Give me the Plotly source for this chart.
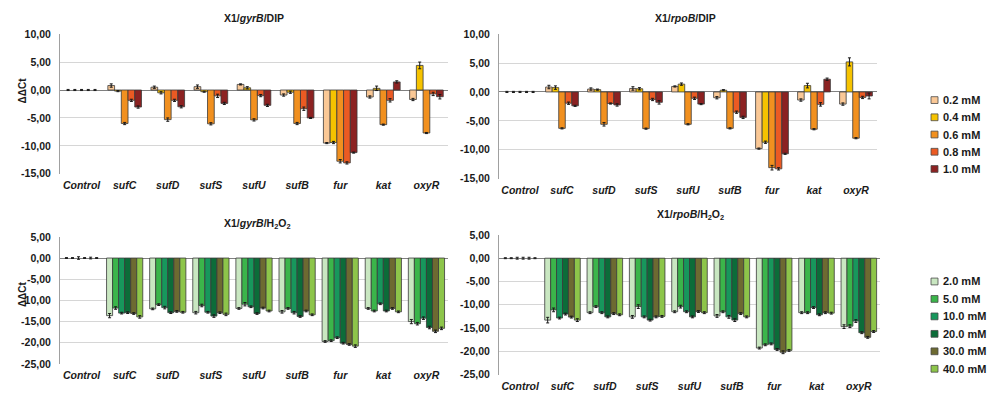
import plotly.graph_objects as go

# Genes on the category axis
genes = ["Control", "sufC", "sufD", "sufS", "sufU", "sufB", "fur", "kat", "oxyR"]

# Treatment doses (legend entries)
dip_doses = ["0.2 mM", "0.4 mM", "0.6 mM", "0.8 mM", "1.0 mM"]
h2o2_doses = ["2.0 mM", "5.0 mM", "10.0 mM", "20.0 mM", "30.0 mM", "40.0 mM"]

dip_colors = ["#FAC896", "#F6C300", "#F1901F", "#EB5A23", "#8C2222"]
h2o2_colors = ["#C9E7C1", "#3BB54A", "#17975C", "#0C6C39", "#6D6A31", "#8DC54A"]

# ΔΔCt values: one row per dose, one column per gene
gyrb_dip = [
    [0, 0.8, 0.5, 0.6, 1.0, -0.9, -9.5, -1.25, -1.7],
    [0, -0.2, -0.5, -0.3, 0.4, -0.4, -9.4, 0.3, 4.4],
    [0, -6.0, -5.3, -6.05, -5.35, -6.0, -12.75, -6.2, -7.7],
    [0, -1.85, -1.85, -1.05, -1.0, -3.35, -13.05, -1.85, -0.7],
    [0, -3.05, -3.0, -2.4, -2.75, -5.0, -11.2, 1.45, -1.2],
]
gyrb_dip_err = [
    [0.1, 0.3, 0.2, 0.3, 0.1, 0.2, 0.1, 0.2, 0.2],
    [0.1, 0.1, 0.2, 0.1, 0.2, 0.2, 0.2, 0.4, 0.6],
    [0.1, 0.2, 0.3, 0.2, 0.2, 0.2, 0.3, 0.1, 0.1],
    [0.1, 0.2, 0.2, 0.3, 0.2, 0.3, 0.2, 0.3, 0.3],
    [0.1, 0.2, 0.2, 0.2, 0.2, 0.1, 0.1, 0.2, 0.4],
]

rpob_dip = [
    [0, 0.85, 0.5, 0.6, 0.95, -1.0, -9.8, -1.4, -2.1],
    [0, 0.75, 0.4, 0.55, 1.35, 0.3, -8.7, 1.1, 5.2],
    [0, -6.3, -5.6, -6.35, -5.6, -6.3, -13.1, -6.45, -8.0],
    [0, -1.95, -2.0, -1.3, -1.1, -3.5, -13.3, -2.15, -0.95],
    [0, -2.4, -2.25, -1.8, -2.1, -4.4, -10.7, 2.2, -0.7],
]
rpob_dip_err = [
    [0.1, 0.3, 0.2, 0.3, 0.1, 0.2, 0.1, 0.2, 0.2],
    [0.1, 0.3, 0.1, 0.2, 0.2, 0.1, 0.2, 0.4, 0.7],
    [0.1, 0.1, 0.3, 0.1, 0.1, 0.1, 0.4, 0.1, 0.1],
    [0.1, 0.2, 0.1, 0.2, 0.2, 0.2, 0.2, 0.3, 0.2],
    [0.1, 0.1, 0.2, 0.3, 0.1, 0.2, 0.1, 0.2, 0.5],
]

gyrb_h2o2 = [
    [0, -13.6, -12.0, -12.9, -11.9, -12.7, -19.7, -11.9, -15.0],
    [0, -11.8, -11.0, -11.2, -10.9, -11.9, -19.5, -12.5, -15.5],
    [0, -13.0, -11.7, -12.8, -11.5, -12.9, -18.8, -10.8, -14.2],
    [0, -12.9, -12.9, -13.7, -13.1, -13.8, -20.1, -12.5, -16.4],
    [0, -13.1, -12.6, -12.9, -11.8, -12.5, -20.4, -11.9, -17.3],
    [0, -13.9, -12.8, -13.3, -12.5, -13.4, -20.8, -12.7, -16.6],
]
gyrb_h2o2_err = [
    [0.1, 0.5, 0.2, 0.3, 0.2, 0.3, 0.2, 0.2, 0.5],
    [0.1, 0.3, 0.2, 0.3, 0.4, 0.2, 0.2, 0.2, 0.3],
    [0.3, 0.2, 0.3, 0.2, 0.2, 0.3, 0.2, 0.2, 0.3],
    [0.1, 0.2, 0.2, 0.3, 0.2, 0.2, 0.2, 0.2, 0.3],
    [0.2, 0.2, 0.2, 0.2, 0.2, 0.2, 0.2, 0.2, 0.3],
    [0.1, 0.3, 0.2, 0.3, 0.2, 0.2, 0.3, 0.2, 0.3],
]

rpob_h2o2 = [
    [0, -13.3, -11.7, -12.6, -11.5, -12.4, -19.3, -11.7, -14.7],
    [0, -11.1, -10.4, -10.4, -10.4, -11.5, -18.6, -11.7, -14.6],
    [0, -12.85, -11.7, -12.6, -11.5, -12.6, -18.4, -10.6, -13.5],
    [0, -12.0, -12.6, -13.3, -12.6, -13.3, -19.6, -12.15, -16.0],
    [0, -12.65, -11.9, -12.6, -11.45, -11.9, -20.2, -11.7, -17.0],
    [0, -13.3, -12.15, -12.5, -11.7, -12.6, -19.8, -11.8, -15.75],
]
rpob_h2o2_err = [
    [0.1, 0.6, 0.2, 0.3, 0.2, 0.3, 0.2, 0.2, 0.4],
    [0.1, 0.4, 0.2, 0.4, 0.3, 0.2, 0.2, 0.2, 0.3],
    [0.2, 0.2, 0.2, 0.2, 0.2, 0.3, 0.2, 0.2, 0.3],
    [0.2, 0.2, 0.2, 0.2, 0.2, 0.3, 0.2, 0.2, 0.2],
    [0.2, 0.2, 0.2, 0.2, 0.2, 0.2, 0.3, 0.2, 0.2],
    [0.1, 0.3, 0.2, 0.2, 0.2, 0.2, 0.2, 0.2, 0.2],
]

W, H = 987, 400
FONT = "Liberation Sans, Arial, sans-serif"


def px_x(x):
    return x / W


def px_y(y):
    return 1 - y / H


fig = go.Figure()


def add_panel(rows, errs, names, colors, xa, ya, group_frac):
    n = len(rows)
    w = group_frac / n
    for i, (vals, err, name, col) in enumerate(zip(rows, errs, names, colors)):
        # no outline on zero-height bars so only their error ticks show
        outline = [0 if v == 0 else 0.8 for v in vals]
        fig.add_trace(go.Bar(
            x=genes, y=vals, name=name, xaxis=xa, yaxis=ya,
            width=w, offset=-group_frac / 2 + i * w,
            marker=dict(color=col, line=dict(color="#3a3a3a", width=outline)),
            error_y=dict(type="data", array=err, color="#1a1a1a",
                         thickness=1, width=1.5),
            showlegend=False,
        ))


add_panel(gyrb_dip, gyrb_dip_err, dip_doses, dip_colors, "x", "y", 0.78)
add_panel(rpob_dip, rpob_dip_err, dip_doses, dip_colors, "x2", "y2", 0.78)
add_panel(gyrb_h2o2, gyrb_h2o2_err, h2o2_doses, h2o2_colors, "x3", "y3", 0.84)
add_panel(rpob_h2o2, rpob_h2o2_err, h2o2_doses, h2o2_colors, "x4", "y4", 0.84)


def fmt(v):
    return f"{v:.2f}".replace(".", ",")


def xaxis_cfg(x0, x1, anchor):
    return dict(
        domain=[px_x(x0), px_x(x1)], anchor=anchor, type="category",
        showgrid=False, showline=False, zeroline=False, ticks="",
        ticklabelstandoff=4,
        tickfont=dict(family=FONT, size=10.5, color="#1a1a1a",
                      weight="bold", style="italic"),
    )


def yaxis_cfg(ytop, ybot, vmax, vmin, anchor):
    ticks = list(range(vmin, vmax + 1, 5))
    return dict(
        domain=[px_y(ybot), px_y(ytop)], anchor=anchor, range=[vmin, vmax],
        tickvals=ticks, ticktext=[fmt(t) for t in ticks],
        showgrid=True, gridcolor="#d6d6d6", gridwidth=1,
        zeroline=True, zerolinecolor="#808080", zerolinewidth=1,
        showline=True, linecolor="#a0a0a0", linewidth=1,
        ticks="", ticklabelstandoff=6,
        tickfont=dict(family=FONT, size=10.5, color="#1a1a1a", weight="bold"),
    )


fig.update_layout(
    width=W, height=H, margin=dict(l=0, r=0, t=0, b=0),
    paper_bgcolor="white", plot_bgcolor="white",
    barmode="overlay",
    font=dict(family=FONT, color="#1a1a1a"),
    xaxis=xaxis_cfg(60, 448, "y"),
    yaxis=yaxis_cfg(29, 173, 10, -15, "x"),
    xaxis2=xaxis_cfg(499, 877, "y2"),
    yaxis2=yaxis_cfg(29, 178, 10, -15, "x2"),
    xaxis3=xaxis_cfg(60, 448, "y3"),
    yaxis3=yaxis_cfg(238, 369, 5, -25, "x3"),
    xaxis4=xaxis_cfg(499, 880, "y4"),
    yaxis4=yaxis_cfg(236, 380, 5, -25, "x4"),
)

annotations = []
shapes = []

# Panel titles
titles = [
    ("<b>X1/<i>gyrB</i>/DIP</b>", 254, 12),
    ("<b>X1/<i>rpoB</i>/DIP</b>", 685, 12),
    ("<b>X1/<i>gyrB</i>/H<sub>2</sub>O<sub>2</sub></b>", 257, 225),
    ("<b>X1/<i>rpoB</i>/H<sub>2</sub>O<sub>2</sub></b>", 690, 215),
]
for text, x, y in titles:
    annotations.append(dict(
        text=text, x=px_x(x), y=px_y(y), xref="paper", yref="paper",
        xanchor="center", yanchor="middle", showarrow=False,
        font=dict(family=FONT, size=10.5, color="#1a1a1a"),
    ))

# Y-axis titles on the left-hand panels
for y in (87, 297):
    annotations.append(dict(
        text="<b>ΔΔCt</b>", x=px_x(22), y=px_y(y), xref="paper", yref="paper",
        xanchor="center", yanchor="middle", showarrow=False, textangle=-90,
        font=dict(family=FONT, size=10, color="#1a1a1a"),
    ))


# Legends: small outlined swatch followed by bold label
def add_legend(names, colors, y0, step):
    for i, (name, col) in enumerate(zip(names, colors)):
        yc = y0 + i * step
        shapes.append(dict(
            type="rect", xref="paper", yref="paper",
            x0=px_x(931), x1=px_x(938), y0=px_y(yc + 3.5), y1=px_y(yc - 3.5),
            fillcolor=col, line=dict(color="#4a4a4a", width=0.8),
        ))
        annotations.append(dict(
            text=f"<b>{name}</b>", x=px_x(941), y=px_y(yc),
            xref="paper", yref="paper", xanchor="left", yanchor="middle",
            showarrow=False, font=dict(family=FONT, size=11, color="#1a1a1a"),
        ))


add_legend(dip_doses, dip_colors, 97, 17.75)
add_legend(h2o2_doses, h2o2_colors, 284, 18)

fig.update_layout(annotations=annotations, shapes=shapes)

fig.write_html("out.html")
